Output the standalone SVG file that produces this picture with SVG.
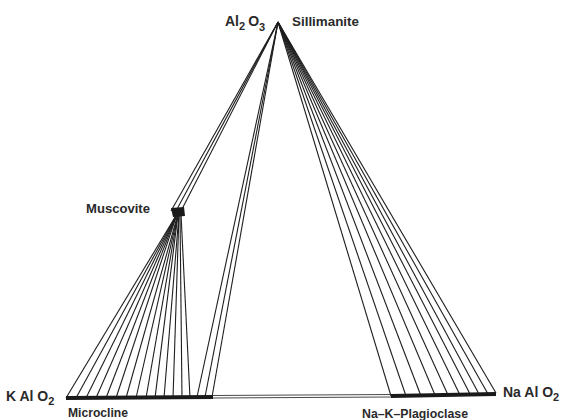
<svg xmlns="http://www.w3.org/2000/svg" width="564" height="420" viewBox="0 0 564 420">
<style>
.t{font-family:"Liberation Sans",Arial,sans-serif;font-weight:bold;font-size:13.5px;fill:#2a2a2a}
.f{font-size:14px}
.s{font-size:11px}
.l{stroke:#1e1e1e;stroke-width:1.1;fill:none}
.bar{stroke:#1a1a1a;stroke-width:4;fill:none}
.thin{stroke:#333;stroke-width:0.9;fill:none}
</style>
<rect width="564" height="420" fill="#ffffff"/>
<g id="connectors">
<line class="l" x1="278" y1="22" x2="171" y2="211"/>
<line class="l" x1="278" y1="22" x2="176" y2="211"/>
<line class="l" x1="278" y1="22" x2="181" y2="211"/>
<line class="l" x1="278" y1="22" x2="197" y2="397"/>
<line class="l" x1="278" y1="22" x2="205" y2="397"/>
<line class="l" x1="278" y1="22" x2="212" y2="397"/>
<line class="l" x1="177" y1="214" x2="66" y2="398"/>
<line class="l" x1="177" y1="214" x2="76" y2="398"/>
<line class="l" x1="177" y1="214" x2="86" y2="398"/>
<line class="l" x1="177" y1="214" x2="96" y2="398"/>
<line class="l" x1="177" y1="214" x2="106" y2="398"/>
<line class="l" x1="177" y1="214" x2="116" y2="398"/>
<line class="l" x1="178" y1="214" x2="126" y2="398"/>
<line class="l" x1="178" y1="214" x2="136" y2="398"/>
<line class="l" x1="178" y1="214" x2="146" y2="398"/>
<line class="l" x1="178" y1="214" x2="155" y2="398"/>
<line class="l" x1="179" y1="214" x2="164" y2="398"/>
<line class="l" x1="179" y1="214" x2="173" y2="398"/>
<line class="l" x1="180" y1="214" x2="182" y2="398"/>
<line class="l" x1="181" y1="214" x2="190" y2="398"/>
<line class="l" x1="278" y1="22" x2="391" y2="396"/>
<line class="l" x1="278" y1="22" x2="406" y2="396"/>
<line class="l" x1="278" y1="22" x2="421" y2="396"/>
<line class="l" x1="278" y1="22" x2="435" y2="395"/>
<line class="l" x1="278" y1="22" x2="448" y2="395"/>
<line class="l" x1="278" y1="22" x2="460" y2="395"/>
<line class="l" x1="278" y1="22" x2="470" y2="394"/>
<line class="l" x1="278" y1="22" x2="479" y2="394"/>
<line class="l" x1="278" y1="22" x2="488" y2="394"/>
<line class="l" x1="278" y1="22" x2="496" y2="393"/>
<line class="bar" x1="66" y1="398" x2="213" y2="397"/>
<line class="thin" x1="213" y1="395.5" x2="392" y2="394.5"/>
<line class="thin" x1="213" y1="398" x2="392" y2="397"/>
<line class="bar" x1="391" y1="396" x2="496" y2="394"/>
</g>
<g id="muscovite">
<path d="M171 208 L184 207 L185 216 L173 217 Z" fill="#1a1a1a"/>
<text class="t" x="86" y="213" textLength="64" lengthAdjust="spacingAndGlyphs">Muscovite</text>
</g>
<g id="al2o3">
<text class="t f" x="225" y="26">Al<tspan class="s" dy="4">2</tspan><tspan dx="3" dy="-4">O</tspan><tspan class="s" dy="5">3</tspan></text>
</g>
<g id="sillimanite">
<text class="t" x="292" y="26" textLength="67" lengthAdjust="spacingAndGlyphs">Sillimanite</text>
</g>
<g id="kalo2">
<text class="t f" x="6" y="401">K Al O<tspan class="s" dy="4">2</tspan></text>
</g>
<g id="microcline">
<text class="t" x="68" y="417" textLength="60" lengthAdjust="spacingAndGlyphs">Microcline</text>
</g>
<g id="naalo2">
<text class="t f" x="503" y="397">Na Al O<tspan class="s" dy="4">2</tspan></text>
</g>
<g id="plagioclase">
<text class="t" x="362" y="418" textLength="106" lengthAdjust="spacingAndGlyphs">Na–K–Plagioclase</text>
</g>
</svg>
